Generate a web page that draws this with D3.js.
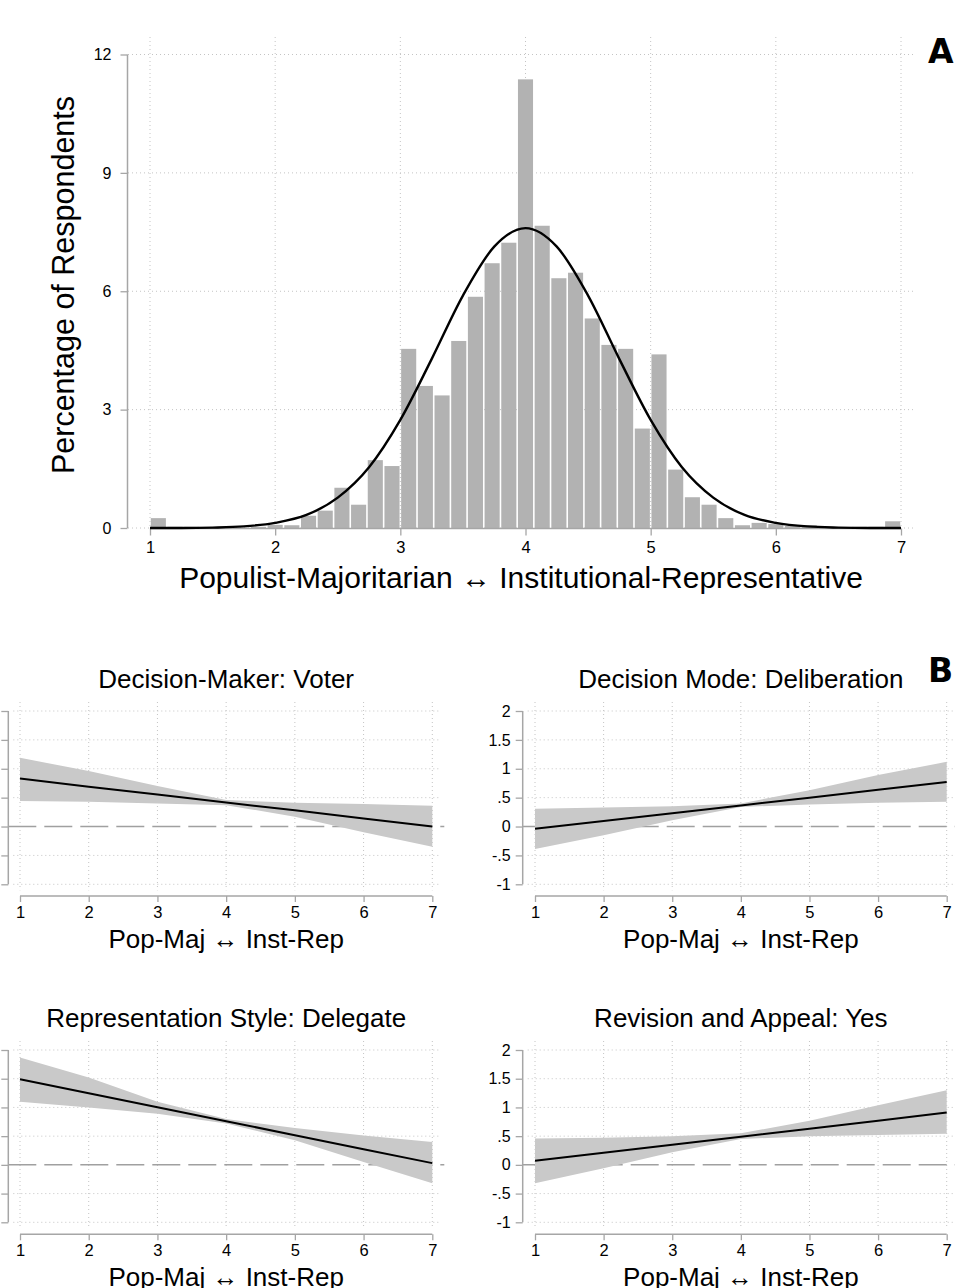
<!DOCTYPE html>
<html><head><meta charset="utf-8">
<script src="https://cdn.jsdelivr.net/npm/d3@7"></script>
<style>
html,body{margin:0;padding:0;background:#fff;}
svg{display:block;}
text{font-family:"Liberation Sans",Arial,Helvetica,sans-serif;fill:#000;}
</style></head>
<body>
<svg id="chart" width="955" height="1288"></svg>
<script>
// ---------- DATA ----------
// Panel A: histogram (percent of respondents), 45 equal bins from 1 to 7
const histMin = 1, histMax = 7;
const histPercent = [0.25,0.03,0.03,0.02,0,0,0.03,0.08,0.07,0.31,
  0.44,1.02,0.59,1.72,1.57,4.54,3.60,3.36,4.74,5.86,
  6.71,7.23,11.37,7.66,6.33,6.47,5.31,4.64,4.54,2.52,
  4.40,1.48,0.78,0.59,0.25,0.07,0.13,0.10,0.05,0.07,
  0.02,0.02,0.03,0.03,0.17];
// overlaid normal density
const normalX = [1,1.25,1.5,1.75,2,2.25,2.5,2.75,3,3.25,3.5,3.75,4,4.25,4.5,4.75,5,5.25,5.5,5.75,6,6.25,6.5,6.75,7];
const normalY = [0,0,0.01,0.04,0.13,0.33,0.77,1.54,2.74,4.28,5.89,7.13,7.60,7.13,5.89,4.28,2.74,1.54,0.77,0.33,0.13,0.04,0.01,0,0];
const histYTicks = [0,3,6,9,12];
const scaleTicks = [1,2,3,4,5,6,7];
const histXTitle = "Populist-Majoritarian \u2194 Institutional-Representative";
const histYTitle = "Percentage of Respondents";

// Panel B: marginal effects
const effX = [1,2,3,4,5,6,7];
const effYTicks = [-1,-0.5,0,0.5,1,1.5,2];
const effYTickLabels = ["-1","-.5","0",".5","1","1.5","2"];
const effXTitle = "Pop-Maj \u2194 Inst-Rep";
const panelTitles = ["Decision-Maker: Voter","Decision Mode: Deliberation","Representation Style: Delegate","Revision and Appeal: Yes"];
const voterEst   = [0.83,0.69,0.555,0.415,0.28,0.14,0.0];
const voterHi    = [1.19,0.96,0.70,0.46,0.41,0.39,0.36];
const voterLo    = [0.44,0.43,0.40,0.37,0.17,-0.10,-0.35];
const delibEst   = [-0.04,0.095,0.23,0.365,0.50,0.635,0.77];
const delibHi    = [0.31,0.33,0.35,0.40,0.63,0.89,1.12];
const delibLo    = [-0.39,-0.15,0.11,0.34,0.38,0.41,0.43];
const delegEst   = [1.49,1.247,1.003,0.76,0.517,0.273,0.03];
const delegHi    = [1.87,1.52,1.10,0.80,0.64,0.51,0.40];
const delegLo    = [1.10,1.00,0.89,0.72,0.43,0.05,-0.32];
const revisEst   = [0.07,0.21,0.35,0.49,0.63,0.77,0.91];
const revisHi    = [0.46,0.47,0.50,0.55,0.77,1.04,1.30];
const revisLo    = [-0.32,-0.06,0.22,0.45,0.50,0.52,0.54];

// ---------- DRAW ----------
const svg = d3.select("#chart");
const AX = "#a6a6a6", GRID = "#c4c4c4", BAR = "#b2b2b2", BAND = "#c9c9c9";

// ===== Panel A =====
(function(){
  const x = d3.scaleLinear().domain([histMin, histMax]).range([150, 901]);
  const y = d3.scaleLinear().domain([0, 12]).range([528, 54.5]);
  const g = svg.append("g");
  g.selectAll(".hg").data(histYTicks).enter().append("line")
    .attr("x1",128).attr("x2",915).attr("y1",d=>y(d)).attr("y2",d=>y(d))
    .attr("stroke",GRID).attr("stroke-dasharray","1,3");
  g.selectAll(".vg").data(scaleTicks).enter().append("line")
    .attr("x1",d=>x(d)).attr("x2",d=>x(d)).attr("y1",37).attr("y2",528)
    .attr("stroke",GRID).attr("stroke-dasharray","1,3");
  const bw = (histMax-histMin)/histPercent.length;
  g.selectAll("rect.bar").data(histPercent).enter().append("rect")
    .attr("x",(d,i)=>x(histMin+i*bw)+0.8)
    .attr("width",(d,i)=>x(histMin+(i+1)*bw)-x(histMin+i*bw)-1.6)
    .attr("y",d=>y(d)).attr("height",d=>y(0)-y(d))
    .attr("fill",BAR);
  const xa = d3.axisBottom(x).tickValues(scaleTicks).tickSize(7).tickPadding(6).tickFormat(d3.format("d"));
  const gx = g.append("g").attr("transform","translate(0,528.5)").call(xa);
  gx.select(".domain").attr("stroke",AX).attr("stroke-width",1.5).attr("d",`M${x(1)},0H${x(7)}`);
  gx.selectAll(".tick line").attr("stroke",AX).attr("stroke-width",1.3);
  gx.selectAll(".tick text").attr("font-size",16.5).attr("fill","#000");
  const ya = d3.axisLeft(y).tickValues(histYTicks).tickSize(7).tickPadding(9);
  const gy = g.append("g").attr("transform","translate(127.5,0)").call(ya);
  gy.select(".domain").attr("stroke",AX).attr("stroke-width",1.5).attr("d",`M0,${y(12)}V${y(0)}`);
  gy.selectAll(".tick line").attr("stroke",AX).attr("stroke-width",1.3);
  gy.selectAll(".tick text").attr("font-size",16).attr("fill","#000");
  const line = d3.line().x(d=>x(d[0])).y(d=>y(d[1])).curve(d3.curveMonotoneX);
  g.append("path").datum(normalX.map((v,i)=>[v,normalY[i]]))
    .attr("d",line).attr("fill","none").attr("stroke","#000").attr("stroke-width",2.4);
  g.append("text").attr("x",521).attr("y",588).attr("text-anchor","middle")
    .attr("font-size",30).text(histXTitle);
  g.append("text").attr("transform","translate(74,285) rotate(-90)").attr("text-anchor","middle")
    .attr("font-size",30.5).text(histYTitle);
  g.append("text").attr("x",928).attr("y",63).attr("font-size",33).attr("font-weight","bold")
    .style("font-family","'DejaVu Sans',sans-serif").text("A");
})();

// ===== Panel B =====
function effPanel(o){
  const x = d3.scaleLinear().domain([1,7]).range([o.x0, o.x1]);
  const y = d3.scaleLinear().domain([-1,2]).range([o.yb, o.yt]);
  const g = svg.append("g");
  g.selectAll(".hg").data(effYTicks.filter(d=>d!==0)).enter().append("line")
    .attr("x1",o.ax+5).attr("x2",o.x1+9).attr("y1",d=>y(d)).attr("y2",d=>y(d))
    .attr("stroke",GRID).attr("stroke-dasharray","1,3");
  g.selectAll(".vg").data(effX).enter().append("line")
    .attr("x1",d=>x(d)).attr("x2",d=>x(d)).attr("y1",o.yt-9).attr("y2",o.yb+6)
    .attr("stroke",GRID).attr("stroke-dasharray","1,3");
  g.append("line").attr("x1",o.ax).attr("x2",o.x1+12).attr("y1",y(0)).attr("y2",y(0))
    .attr("stroke","#a0a0a0").attr("stroke-width",1.5).attr("stroke-dasharray","28,8");
  const area = d3.area().x(d=>x(d.x)).y0(d=>y(d.lo)).y1(d=>y(d.hi));
  const pts = effX.map((v,i)=>({x:v,est:o.est[i],hi:o.hi[i],lo:o.lo[i]}));
  g.append("path").datum(pts).attr("d",area).attr("fill",BAND);
  g.append("path").datum(pts).attr("d",d3.line().x(d=>x(d.x)).y(d=>y(d.est)))
    .attr("fill","none").attr("stroke","#000").attr("stroke-width",2);
  // y axis (labels only where they fall on the canvas, as in the reference)
  const ya = d3.axisLeft(y).tickValues(effYTicks).tickSize(7).tickPadding(5)
    .tickFormat(d=> o.showYLabels ? effYTickLabels[effYTicks.indexOf(d)] : "");
  const gy = g.append("g").attr("transform",`translate(${o.ax},0)`).call(ya);
  gy.select(".domain").attr("stroke",AX).attr("stroke-width",1.5).attr("d",`M0,${y(2)}V${y(-1)}`);
  gy.selectAll(".tick line").attr("stroke",AX).attr("stroke-width",1.3);
  gy.selectAll(".tick text").attr("font-size",16).attr("fill","#000");
  if(!o.showYLabels) gy.selectAll(".tick text").remove();
  const xa = d3.axisBottom(x).tickValues(effX).tickSize(6).tickPadding(4).tickFormat(d3.format("d"));
  const gx = g.append("g").attr("transform",`translate(0,${o.axy})`).call(xa);
  gx.select(".domain").attr("stroke",AX).attr("stroke-width",1.5).attr("d",`M${x(1)},0H${x(7)}`);
  gx.selectAll(".tick line").attr("stroke",AX).attr("stroke-width",1.3);
  gx.selectAll(".tick text").attr("font-size",16.5).attr("fill","#000");
  g.append("text").attr("x",(o.x0+o.x1)/2).attr("y",o.titleY).attr("text-anchor","middle")
    .attr("font-size",26).text(o.title);
  g.append("text").attr("x",(o.x0+o.x1)/2).attr("y",o.axy+52).attr("text-anchor","middle")
    .attr("font-size",26).text(effXTitle);
}
effPanel({title:panelTitles[0],est:voterEst,hi:voterHi,lo:voterLo,x0:20,x1:432.3,yt:711,yb:884.3,ax:8.3,axy:896,titleY:688,showYLabels:false});
effPanel({title:panelTitles[1],est:delibEst,hi:delibHi,lo:delibLo,x0:535,x1:946.7,yt:711,yb:884.3,ax:522.7,axy:896,titleY:688,showYLabels:true});
effPanel({title:panelTitles[2],est:delegEst,hi:delegHi,lo:delegLo,x0:20,x1:432.3,yt:1050,yb:1222.3,ax:8.3,axy:1234.3,titleY:1026.7,showYLabels:false});
effPanel({title:panelTitles[3],est:revisEst,hi:revisHi,lo:revisLo,x0:535,x1:946.7,yt:1050,yb:1222.3,ax:522.7,axy:1234.3,titleY:1026.7,showYLabels:true});
svg.append("text").attr("x",928).attr("y",682).attr("font-size",33).attr("font-weight","bold")
  .style("font-family","'DejaVu Sans',sans-serif").text("B");
</script>
</body></html>
